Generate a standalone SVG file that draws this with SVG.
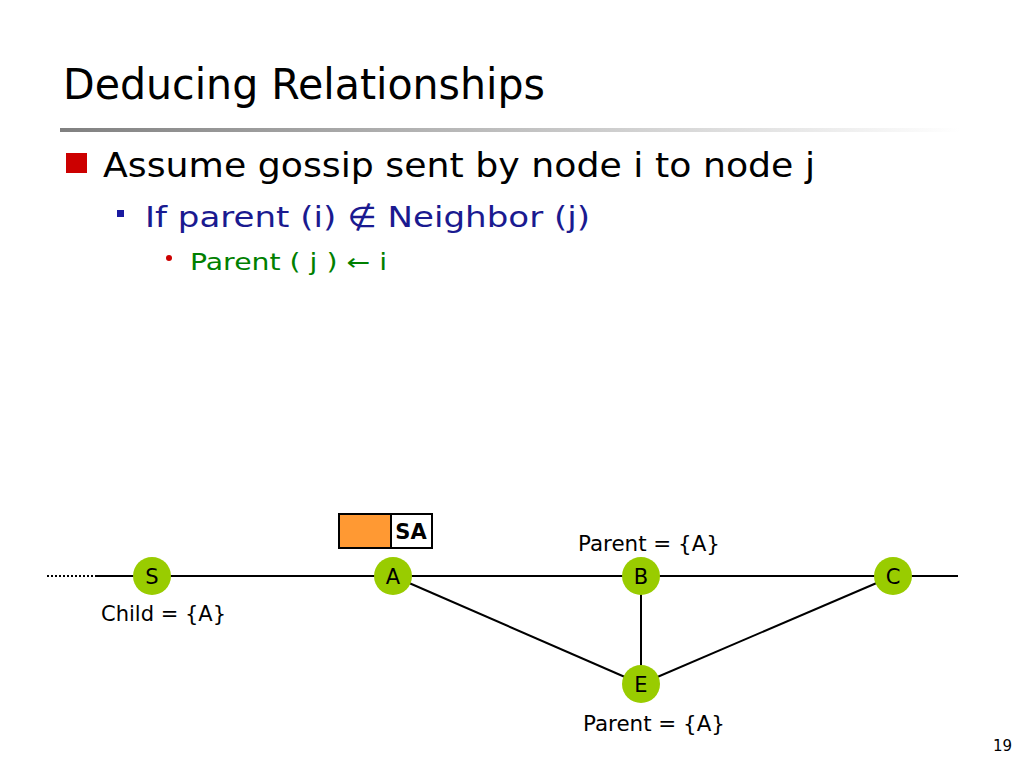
<svg xmlns="http://www.w3.org/2000/svg" width="1024" height="768" viewBox="0 0 1024 768">
<defs>
<linearGradient id="bar" x1="0" y1="0" x2="1" y2="0">
<stop offset="0" stop-color="#808080"/>
<stop offset="1" stop-color="#ffffff"/>
</linearGradient>
<style>
text{font-family:"DejaVu Sans","Open Sans",sans-serif;}
.node circle{fill:#99cc00;}
.node text{font-size:21px;fill:#000;text-anchor:middle;}
.edge{stroke:#000;stroke-width:2;fill:none;}
.lbl{font-size:21px;fill:#000;}
</style>
</defs>
<rect width="1024" height="768" fill="#fff"/>
<text x="63" y="99" font-size="42" fill="#000" textLength="482" lengthAdjust="spacingAndGlyphs">Deducing Relationships</text>
<rect x="60" y="128" width="900" height="4" fill="url(#bar)"/>
<rect x="66" y="153" width="21" height="20" fill="#cc0000"/>
<text x="103" y="177" font-size="34" fill="#000" textLength="712" lengthAdjust="spacingAndGlyphs">Assume gossip sent by node i to node j</text>
<rect x="117" y="210" width="7" height="7" fill="#1a1aa0"/>
<text x="145" y="227" font-size="29" fill="#1a1a90" textLength="445" lengthAdjust="spacingAndGlyphs">If parent (i)  ∉ Neighbor (j)</text>
<circle cx="169" cy="258" r="3" fill="#cc0000"/>
<text x="190" y="270" font-size="23" fill="#008000" textLength="197" lengthAdjust="spacingAndGlyphs">Parent ( j ) ← i</text>
<g id="connectors">
<line class="edge" x1="47" y1="576" x2="97" y2="576" stroke-dasharray="2,2"/>
<line class="edge" x1="97" y1="576" x2="958" y2="576"/>
<line class="edge" x1="393" y1="576" x2="641" y2="684"/>
<line class="edge" x1="641" y1="576" x2="641" y2="684"/>
<line class="edge" x1="893" y1="576" x2="641" y2="684"/>
</g>
<g id="packet">
<rect x="339" y="514" width="52" height="34" fill="#ff9933" stroke="#000" stroke-width="2"/>
<rect x="391" y="514" width="41" height="34" fill="#fff" stroke="#000" stroke-width="2"/>
<text x="411" y="539" font-size="21" font-weight="bold" text-anchor="middle" fill="#000">SA</text>
</g>
<g id="node-S" class="node"><circle cx="152" cy="576" r="19"/><text x="152" y="584">S</text></g>
<g id="node-A" class="node"><circle cx="393" cy="576" r="19"/><text x="393" y="584">A</text></g>
<g id="node-B" class="node"><circle cx="641" cy="576" r="19"/><text x="641" y="584">B</text></g>
<g id="node-C" class="node"><circle cx="893" cy="576" r="19"/><text x="893" y="584">C</text></g>
<g id="node-E" class="node"><circle cx="641" cy="684" r="19"/><text x="641" y="692">E</text></g>
<text class="lbl" x="578" y="551" textLength="142" lengthAdjust="spacingAndGlyphs">Parent = {A}</text>
<text class="lbl" x="101" y="621" textLength="125" lengthAdjust="spacingAndGlyphs">Child = {A}</text>
<text class="lbl" x="583" y="731" textLength="142" lengthAdjust="spacingAndGlyphs">Parent = {A}</text>
<text x="993" y="751" font-size="15" fill="#000">19</text>
</svg>
